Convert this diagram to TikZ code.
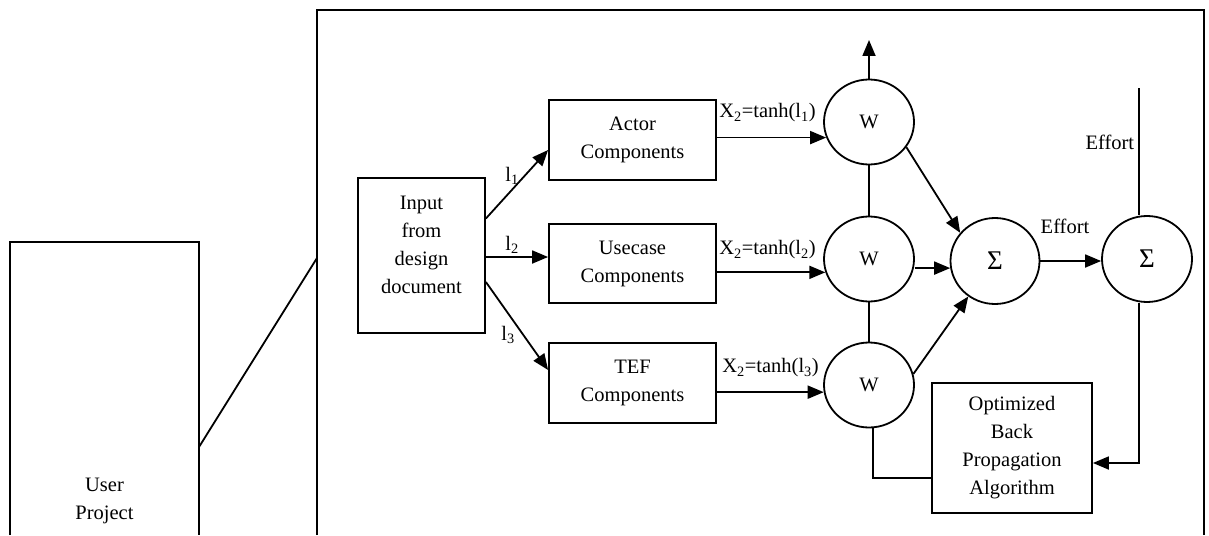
\documentclass[tikz,border=0pt]{standalone}
\usepackage{fontspec}
\setmainfont{Liberation Serif}
\usetikzlibrary{arrows.meta,shapes.geometric}
\begin{document}
\begin{tikzpicture}[x=1pt,y=-1pt,line width=1.8pt,
  font=\fontsize{20.5}{28}\selectfont,
  box/.style={draw,rectangle,inner sep=0pt,align=center},
  neuron/.style={draw,ellipse,inner sep=0pt,minimum width=90pt,minimum height=85pt},
  sigma/.style={neuron,font=\fontsize{27}{28}\selectfont},
  txt/.style={inner sep=0pt,align=center},
  arr/.style={-{Triangle[length=16pt,width=13pt]}}]
\useasboundingbox (0,0) rectangle (1209,535);
% outer frame (cut off at bottom)
\coordinate (fbl) at (317,535);
\coordinate (ftl) at (317,10);
\coordinate (ftr) at (1204,10);
\coordinate (fbr) at (1204,535);
\draw (fbl) -- (ftl) -- (ftr) -- (fbr);
% user project box (cut off at bottom)
\coordinate (ubl) at (10,535);
\coordinate (utl) at (10,242);
\coordinate (utr) at (199,242);
\coordinate (ubr) at (199,535);
\draw (ubl) -- (utl) -- (utr) -- (ubr);
\node[txt] (user) at (104.5,501) {User\\Project};
\coordinate (ua) at (199,447);
\coordinate (fa) at (317,258);
\draw (ua) -- (fa);
% boxes
\node[box,minimum width=127pt,minimum height=155pt] (inp) at (421.5,255.5) {};
\node[txt] (inptext) at (421.5,245) {Input\\from\\design\\document};
\node[box,minimum width=167pt,minimum height=80pt] (actor) at (632.5,140) {Actor\\Components};
\node[box,minimum width=167pt,minimum height=79pt] (uc) at (632.5,263.5) {Usecase\\Components};
\node[box,minimum width=167pt,minimum height=80pt] (tef) at (632.5,383) {TEF\\Components};
\node[box,minimum width=160pt,minimum height=130pt] (opt) at (1012,448) {Optimized\\Back\\Propagation\\Algorithm};
% neurons
\node[neuron] (w1) at (869,122) {W};
\node[neuron] (w2) at (869,259) {W};
\node[neuron] (w3) at (869,385) {W};
\node[sigma,minimum width=89pt,minimum height=86pt] (s1) at (995,261) {Σ};
\node[sigma,minimum height=86pt] (s2) at (1147,259) {Σ};
% input arrows
\draw[arr] ([yshift=37pt]inp.east) -- ([yshift=-10pt]actor.west);
\draw[arr] ([yshift=-1.5pt]inp.east) -- ([yshift=-1.5pt]inp.east -| uc.west);
\draw[arr] ([yshift=-26.5pt]inp.east) -- ([yshift=13pt]tef.west);
\node[txt] (l1) at (512,176) {l\textsubscript{1}};
\node[txt] (l2) at (512,245) {l\textsubscript{2}};
\node[txt] (l3) at (508,335) {l\textsubscript{3}};
% component to neuron arrows
\draw[arr] (actor.east |- w1.200) -- (w1.200);
\draw[arr] (uc.east |- w2.197) -- (w2.197);
\draw[arr] (tef.east |- w3.189) -- (w3.189);
\node[txt] (x1) at (767.5,113) {X\textsubscript{2}=tanh(l\textsubscript{1})};
\node[txt] (x2) at (767.5,250) {X\textsubscript{2}=tanh(l\textsubscript{2})};
\node[txt] (x3) at (770.5,368) {X\textsubscript{2}=tanh(l\textsubscript{3})};
% neuron links
\coordinate (up) at (869,40);
\draw[arr] (w1.north) -- (up);
\draw (w1.south) -- (w2.north);
\draw (w2.south) -- (w3.north);
\draw[arr] (w1.326) -- (s1.141);
\draw[arr] (s1.189 -| w2.east) -- (s1.189);
\draw[arr] (w3.14) -- (s1.233);
\draw[arr] (s1.east) -- (s1.east -| s2.west);
\node[txt] (eff1) at (1065,226) {Effort};
% effort line and feedback
\coordinate (etop) at (1139,88);
\draw (etop) -- (etop |- s2.north);
\node[txt,anchor=east] (eff2) at (1135,142) {Effort};
\draw[arr] (etop |- s2.south) |- ([yshift=-15pt]opt.east);
\draw ([xshift=4pt]w3.south) |- ([yshift=-30pt]opt.west);
\end{tikzpicture}
\end{document}
